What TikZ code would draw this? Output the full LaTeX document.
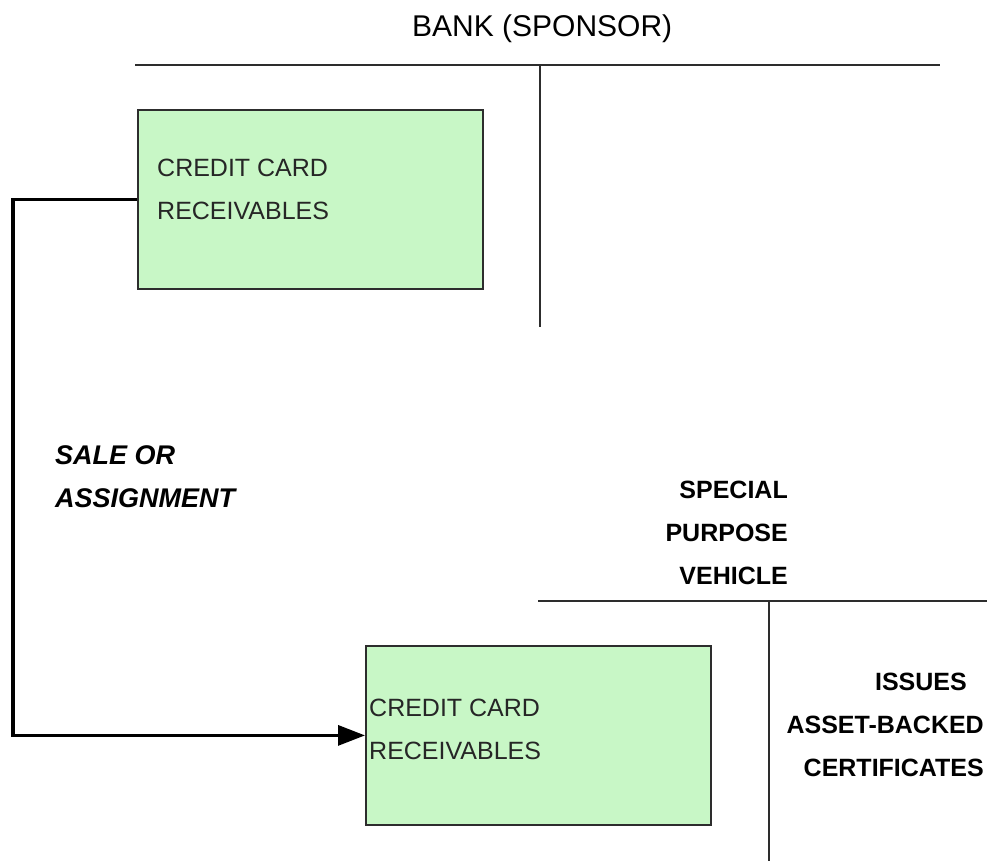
\documentclass[tikz,border=0pt]{standalone}
\usepackage{fontspec}
\setmainfont{Liberation Sans}
\usetikzlibrary{arrows.meta}

\definecolor{recgreen}{RGB}{200,247,198}
\definecolor{rulegray}{RGB}{45,45,45}

\tikzset{
  divider/.style={draw=rulegray, line width=2pt},
  recbox/.style={draw=rulegray, fill=recgreen, line width=1.8pt,
    minimum width=345pt, minimum height=179pt, inner sep=0pt, anchor=north west},
  boxtext/.style={inner sep=0pt, align=left, anchor=north west, text=black!85,
    font=\fontsize{25}{43}\selectfont},
  boldtext/.style={inner sep=0pt, font=\bfseries\fontsize{25}{43}\selectfont},
  flowtext/.style={inner sep=0pt, align=left, anchor=north west,
    font=\bfseries\itshape\fontsize{27}{43}\selectfont},
  transfer/.style={draw=black, line width=3.2pt,
    -{Triangle[length=27pt,width=20pt]}},
}

\begin{document}
\begin{tikzpicture}[x=1pt, y=-1pt]
  \useasboundingbox[fill=white] (0,0) rectangle (987,861);

  % Sponsor bank heading and its partition
  \node[inner sep=0pt, anchor=base west, font=\fontsize{30}{36}\selectfont]
    (bank) at (412,37) {BANK (SPONSOR)};
  \coordinate (bankL) at (135,65);
  \coordinate (bankR) at (940,65);
  \coordinate (bankSplitTop) at (540,65);
  \coordinate (bankSplitBot) at (540,327);
  \draw[divider] (bankL) -- (bankR);
  \draw[divider] (bankSplitTop) -- (bankSplitBot);

  % Receivables held by the bank
  \node[recbox] (bankrec) at (137,109) {};
  \node[boxtext] (bankrectext) at ([shift={(20,50)}]bankrec.north west)
    {CREDIT CARD\\RECEIVABLES};

  % Transfer label
  \node[flowtext] (sale) at (55,445) {SALE OR\\ASSIGNMENT};

  % Special purpose vehicle heading and its partition
  \node[boldtext, align=right, anchor=north east] (spv) at (788,481)
    {SPECIAL\\PURPOSE\\VEHICLE};
  \coordinate (spvL) at (538,601);
  \coordinate (spvR) at (987,601);
  \coordinate (spvSplitTop) at (769,601);
  \coordinate (spvSplitBot) at (769,861);
  \draw[divider] (spvL) -- (spvR);
  \draw[divider] (spvSplitTop) -- (spvSplitBot);

  % Receivables held by the vehicle
  \node[recbox] (spvrec) at (365,645) {};
  \node[boxtext] (spvrectext) at ([shift={(4,54)}]spvrec.north west)
    {CREDIT CARD\\RECEIVABLES};

  % Certificates issued by the vehicle
  \node[boldtext, align=right, anchor=north east] (issues) at (984,673)
    {ISSUES\hspace*{17pt}\\ASSET-BACKED\\CERTIFICATES};

  % Sale or assignment of the receivables
  \coordinate (elbow) at (13,0);
  \draw[transfer] (bankrec.west) -- (bankrec.west -| elbow) |- (spvrec.west);
\end{tikzpicture}
\end{document}
